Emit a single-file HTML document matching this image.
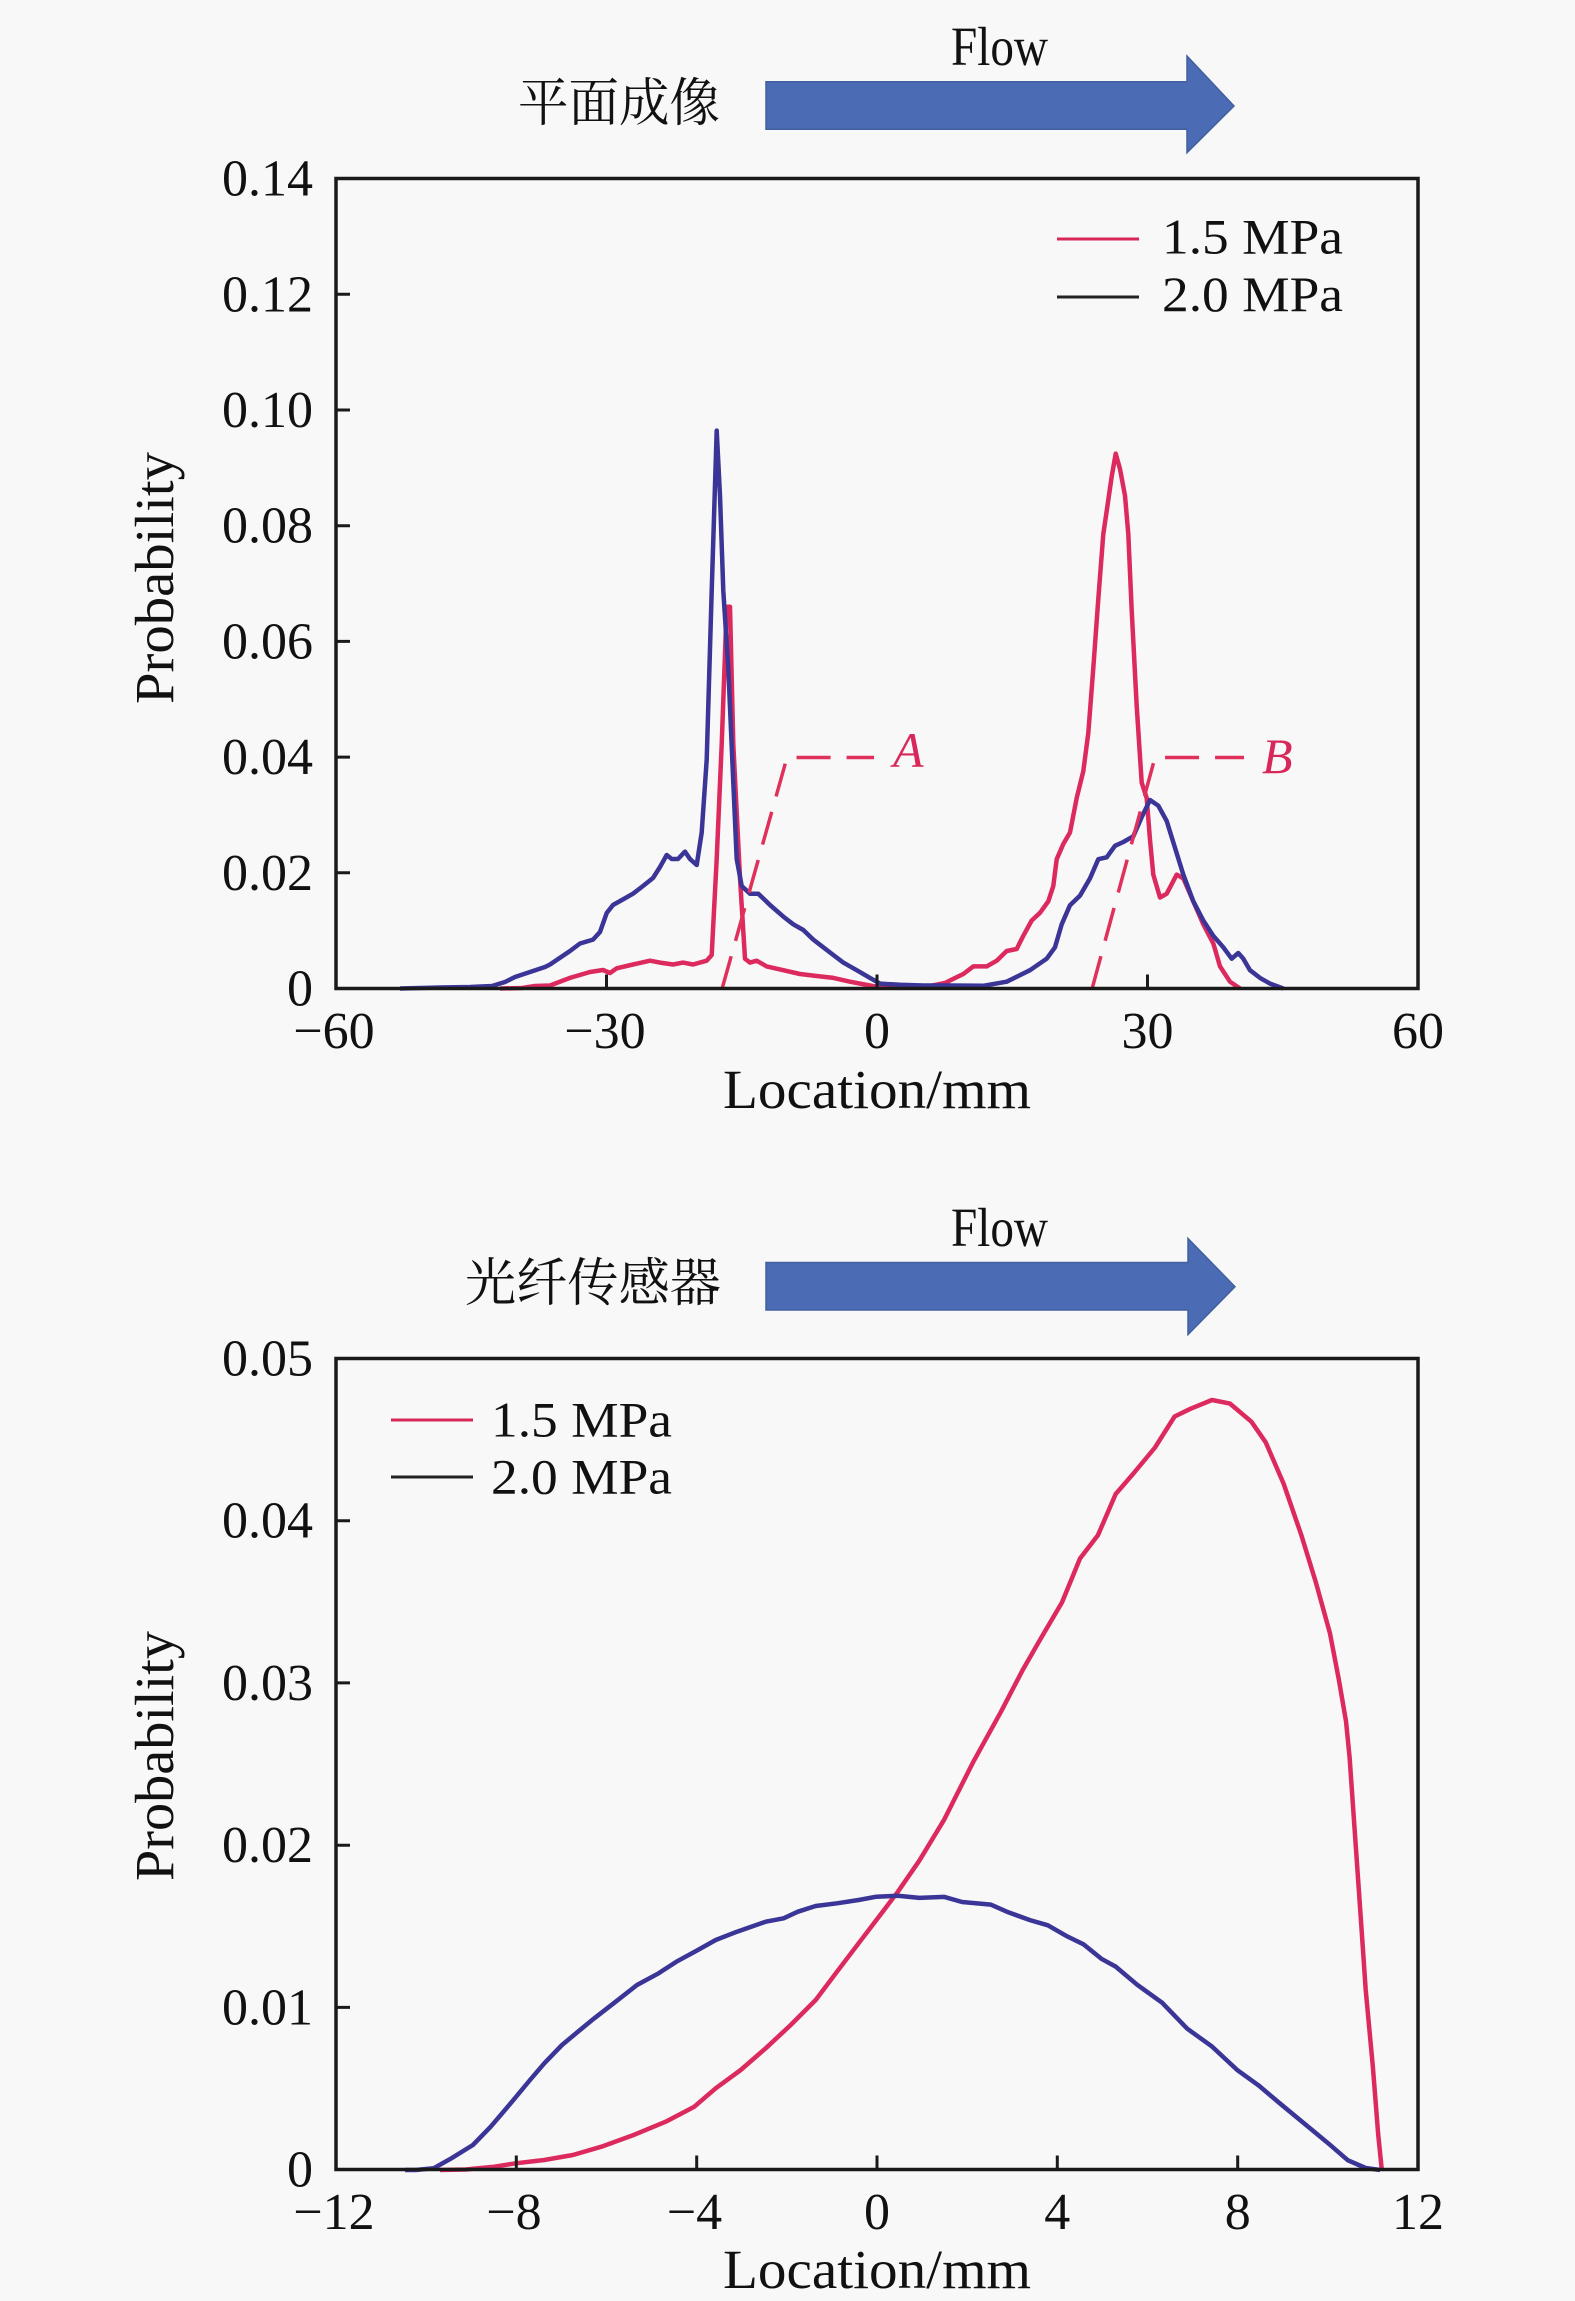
<!DOCTYPE html>
<html>
<head>
<meta charset="utf-8">
<style>
  html,body{margin:0;padding:0;background:#f8f8f8;}
  svg{display:block;}
  .tk{font-family:"Liberation Serif","DejaVu Serif",serif;font-size:52px;fill:#111;}
  .lab{font-family:"Liberation Serif","DejaVu Serif",serif;font-size:55px;fill:#111;}
  .cjk{font-family:"Liberation Serif","Noto Serif CJK SC","Noto Sans CJK SC",serif;font-size:52px;fill:#111;}
  .lg{font-family:"Liberation Serif","DejaVu Serif",serif;font-size:50px;fill:#111;}
  .ann{font-family:"Liberation Serif","DejaVu Serif",serif;font-size:50px;font-style:italic;fill:#d8285a;}
</style>
</head>
<body>
<svg width="1575" height="2301" viewBox="0 0 1575 2301" xmlns="http://www.w3.org/2000/svg">
  <rect x="0" y="0" width="1575" height="2301" fill="#f8f8f8"/>

  <!-- ===================== TOP CHART ===================== -->
  <text class="cjk" x="518" y="121" textLength="202" lengthAdjust="spacingAndGlyphs">平面成像</text>
  <text class="lab" x="951" y="65" font-size="46" textLength="97" lengthAdjust="spacingAndGlyphs">Flow</text>
  <polygon points="766,81.7 1187,81.7 1187,56 1234,106 1187,152.7 1187,129.3 766,129.3" fill="#4b6bb5" stroke="#41609f" stroke-width="1.5"/>

  <!-- data: red 1.5 MPa -->
  <path fill="none" stroke="#dc2a5e" stroke-width="4.5" stroke-linejoin="round" d="M 500 988.5 L 522 988 L 535 986 L 550 985.5 L 570 977.9 L 590 972 L 603 970 L 610 973 L 616.7 968.3 L 633 964.5 L 650 960.7 L 660 962.6 L 673 964.5 L 683 962.6 L 693 964.5 L 706.7 960.7 L 711.7 955 L 716.7 859 L 721.7 744.4 L 726.7 606.7 L 730 606.7 L 733.3 744.4 L 740 878 L 745 958.7 L 750 962.6 L 756.7 960.7 L 766.7 966.4 L 783.3 970.2 L 800 974 L 816.7 976 L 833.3 977.9 L 850 981.7 L 870 985.5 L 880 987.5 L 900 987 L 930 986 L 945 983 L 955 978 L 963.3 974 L 973.3 966.4 L 986.7 966.4 L 996.7 960.7 L 1006.7 951 L 1016.7 949 L 1023.3 935.8 L 1031.7 920.5 L 1040 912.8 L 1048.3 901.3 L 1053.3 886 L 1056.7 859.2 L 1063.3 844 L 1070 832.5 L 1076.7 798 L 1083.3 771.2 L 1088.3 733 L 1093.3 668 L 1098.3 599 L 1103.3 534 L 1106.7 511 L 1111.7 476.5 L 1115.7 453.6 L 1120 469 L 1125 495.7 L 1128.3 534 L 1131.7 610.5 L 1136.7 706 L 1141.7 782.7 L 1146.7 798 L 1150 840 L 1153.3 874.6 L 1160 897.5 L 1166.7 893.7 L 1176.7 874.6 L 1183.3 878.4 L 1193.3 901.3 L 1203.3 924.3 L 1213.3 943.4 L 1220 966.4 L 1230 981.7 L 1240 988.5"/>

  <!-- data: blue 2.0 MPa -->
  <path fill="none" stroke="#3a3596" stroke-width="4.5" stroke-linejoin="round" d="M 400 988.5 L 440 987.5 L 470 987 L 492 986 L 505 982 L 515 977 L 530 972 L 545 967 L 550 964.5 L 570 951 L 580 943.5 L 593 939.6 L 600 932 L 606.7 913 L 613 905 L 623 899.4 L 633 893.7 L 643 886 L 653 878 L 660 867 L 666.7 855 L 671.7 859 L 678 859 L 685 851.6 L 690 859 L 696.7 865 L 701.7 832.5 L 706.7 759.7 L 711.7 591 L 716.7 430.6 L 720 495.7 L 723.3 591 L 728.3 668 L 733.3 782.7 L 736.7 859 L 741.7 886 L 750 893.7 L 758.3 893.7 L 770 905 L 783.3 916.6 L 793.3 924.3 L 803.3 930 L 813.3 939.6 L 823.3 947.3 L 833.3 955 L 843.3 962.6 L 856.7 970.2 L 870 977.9 L 880 983.6 L 900 984.8 L 923 985.5 L 950 985.5 L 983.3 985.8 L 1006.7 981.7 L 1030 970.2 L 1046.7 958.7 L 1055 947.3 L 1061.7 924.3 L 1070 905.2 L 1080 895.6 L 1090 878.4 L 1098.3 859.2 L 1106.7 857.3 L 1115 845.8 L 1123.3 842 L 1133.3 836.3 L 1141.7 817.1 L 1150 800 L 1158.3 805.7 L 1166.7 821 L 1175 847.8 L 1183.3 874.6 L 1193.3 901.3 L 1203.3 920.5 L 1213.3 935.8 L 1223.3 947.3 L 1231.7 958.7 L 1238.3 953 L 1243.3 958.7 L 1250 970.2 L 1260 977.9 L 1270 983.6 L 1283.3 988.5"/>

  <!-- annotations A / B -->
  <path fill="none" stroke="#e0305c" stroke-width="3.5" stroke-dasharray="34 16" d="M 722 989 L 787 757.5 L 874 757.5"/>
  <path fill="none" stroke="#e0305c" stroke-width="3.5" stroke-dasharray="34 16" d="M 1092 989 L 1155 757.5 L 1244 757.5"/>
  <text class="ann" x="893" y="767">A</text>
  <text class="ann" x="1262" y="773">B</text>

  <!-- frame & ticks -->
  <rect x="336" y="178.5" width="1082" height="810" fill="none" stroke="#1a1a1a" stroke-width="3.5"/>
  <path stroke="#1a1a1a" stroke-width="3" fill="none" d="M 336 872.8 h 14 M 336 757.1 h 14 M 336 641.4 h 14 M 336 525.7 h 14 M 336 410 h 14 M 336 294.3 h 14 M 606.5 988.5 v -14 M 877 988.5 v -14 M 1147.5 988.5 v -14"/>

  <g class="tk" text-anchor="end">
    <text x="313" y="195.5">0.14</text>
    <text x="313" y="311.3">0.12</text>
    <text x="313" y="427">0.10</text>
    <text x="313" y="542.7">0.08</text>
    <text x="313" y="658.4">0.06</text>
    <text x="313" y="774.1">0.04</text>
    <text x="313" y="889.8">0.02</text>
    <text x="313" y="1005.5">0</text>
  </g>
  <g class="tk" text-anchor="middle">
    <text x="334" y="1048">−60</text>
    <text x="605" y="1048">−30</text>
    <text x="877" y="1048">0</text>
    <text x="1147.5" y="1048">30</text>
    <text x="1418" y="1048">60</text>
  </g>
  <text class="lab" x="877" y="1108" text-anchor="middle" textLength="308" lengthAdjust="spacingAndGlyphs">Location/mm</text>
  <text class="lab" x="173" y="578" text-anchor="middle" transform="rotate(-90 173 578)" textLength="252" lengthAdjust="spacingAndGlyphs">Probability</text>

  <line x1="1057" y1="239" x2="1139" y2="239" stroke="#d8285a" stroke-width="3"/>
  <line x1="1057" y1="297" x2="1139" y2="297" stroke="#222" stroke-width="3"/>
  <text class="lg" x="1162" y="253.5" textLength="181" lengthAdjust="spacingAndGlyphs">1.5 MPa</text>
  <text class="lg" x="1162" y="311" textLength="181" lengthAdjust="spacingAndGlyphs">2.0 MPa</text>

  <!-- ===================== BOTTOM CHART ===================== -->
  <text class="cjk" x="465" y="1301" textLength="256" lengthAdjust="spacingAndGlyphs">光纤传感器</text>
  <text class="lab" x="951" y="1246" font-size="46" textLength="97" lengthAdjust="spacingAndGlyphs">Flow</text>
  <polygon points="766,1262.5 1188,1262.5 1188,1238.5 1235,1286.7 1188,1334.5 1188,1310 766,1310" fill="#4b6bb5" stroke="#41609f" stroke-width="1.5"/>

  <path fill="none" stroke="#dc2a5e" stroke-width="4.5" stroke-linejoin="round" d="M 440 2170 L 465.7 2169.5 L 494.3 2166.7 L 515.7 2163.3 L 544.3 2160 L 572.9 2155 L 601.4 2146.7 L 633.6 2135 L 665.7 2121.7 L 694.3 2106.7 L 715.7 2088.3 L 740.7 2070 L 765.7 2048.3 L 790.7 2025 L 815.7 2000 L 837 1971.7 L 858.6 1943.3 L 876.4 1920 L 897.9 1891.7 L 919.3 1860.7 L 944.3 1819.4 L 972.9 1762.6 L 1001.4 1710.9 L 1022.9 1669.6 L 1040.7 1638.6 L 1062 1602.4 L 1080 1558.5 L 1097.9 1535.3 L 1115.7 1494 L 1133.6 1473.3 L 1155 1447.5 L 1174.6 1416.5 L 1190.7 1408.7 L 1212 1400 L 1230 1403.6 L 1251.4 1421.7 L 1265.7 1442.3 L 1283.6 1483.6 L 1301.4 1535.3 L 1315.7 1581.8 L 1330 1633.4 L 1338.9 1679.9 L 1346 1721.2 L 1349.6 1757.4 L 1355 1834.9 L 1360.4 1912.4 L 1365.7 1989.8 L 1372.9 2067.3 L 1378.2 2134.5 L 1381.8 2170"/>

  <path fill="none" stroke="#3a3596" stroke-width="4.5" stroke-linejoin="round" d="M 405 2170 L 415.7 2170 L 433.6 2168.3 L 451.4 2158.3 L 472.9 2145 L 490.7 2126.7 L 512 2101.7 L 530 2080 L 544.3 2063.3 L 562 2045 L 580 2030 L 594.3 2018.3 L 615.7 2001.7 L 637 1985 L 658.6 1973.3 L 676.4 1961.7 L 697.9 1950 L 715.7 1940 L 737 1931.7 L 765.7 1921.7 L 783.6 1918.3 L 797.9 1911.7 L 815.7 1906 L 837 1903.3 L 858.6 1900 L 876.4 1896.7 L 897.9 1895.8 L 919.3 1897.9 L 944.3 1896.9 L 962.1 1902 L 990.7 1904.6 L 1008.6 1912.4 L 1030 1920.1 L 1047.9 1925.3 L 1065.7 1935.6 L 1083.6 1944.4 L 1101.4 1958.8 L 1115.7 1966.6 L 1137.1 1984.7 L 1162.1 2002.7 L 1187.1 2028.6 L 1212.1 2046.6 L 1237.1 2069.9 L 1258.6 2085.4 L 1280 2103.5 L 1305 2124.1 L 1330 2144.8 L 1347.9 2160.3 L 1365.7 2168 L 1380 2170"/>

  <rect x="336" y="1358.5" width="1082" height="811" fill="none" stroke="#1a1a1a" stroke-width="3.5"/>
  <path stroke="#1a1a1a" stroke-width="3" fill="none" d="M 336 2007.4 h 14 M 336 1845.2 h 14 M 336 1682.9 h 14 M 336 1520.7 h 14 M 516.3 2169.5 v -14 M 696.7 2169.5 v -14 M 877 2169.5 v -14 M 1057.3 2169.5 v -14 M 1237.7 2169.5 v -14"/>

  <g class="tk" text-anchor="end">
    <text x="313" y="1375.5">0.05</text>
    <text x="313" y="1537.7">0.04</text>
    <text x="313" y="1699.9">0.03</text>
    <text x="313" y="1862.2">0.02</text>
    <text x="313" y="2024.4">0.01</text>
    <text x="313" y="2186.6">0</text>
  </g>
  <g class="tk" text-anchor="middle">
    <text x="334" y="2229">−12</text>
    <text x="514" y="2229">−8</text>
    <text x="694.5" y="2229">−4</text>
    <text x="877" y="2229">0</text>
    <text x="1057.3" y="2229">4</text>
    <text x="1237.7" y="2229">8</text>
    <text x="1418" y="2229">12</text>
  </g>
  <text class="lab" x="877" y="2288" text-anchor="middle" textLength="308" lengthAdjust="spacingAndGlyphs">Location/mm</text>
  <text class="lab" x="173" y="1756" text-anchor="middle" transform="rotate(-90 173 1756)" textLength="250" lengthAdjust="spacingAndGlyphs">Probability</text>

  <line x1="391" y1="1420" x2="473" y2="1420" stroke="#d8285a" stroke-width="3"/>
  <line x1="391" y1="1477" x2="473" y2="1477" stroke="#222" stroke-width="3"/>
  <text class="lg" x="491" y="1436.5" textLength="181" lengthAdjust="spacingAndGlyphs">1.5 MPa</text>
  <text class="lg" x="491" y="1493.5" textLength="181" lengthAdjust="spacingAndGlyphs">2.0 MPa</text>
</svg>
</body>
</html>
